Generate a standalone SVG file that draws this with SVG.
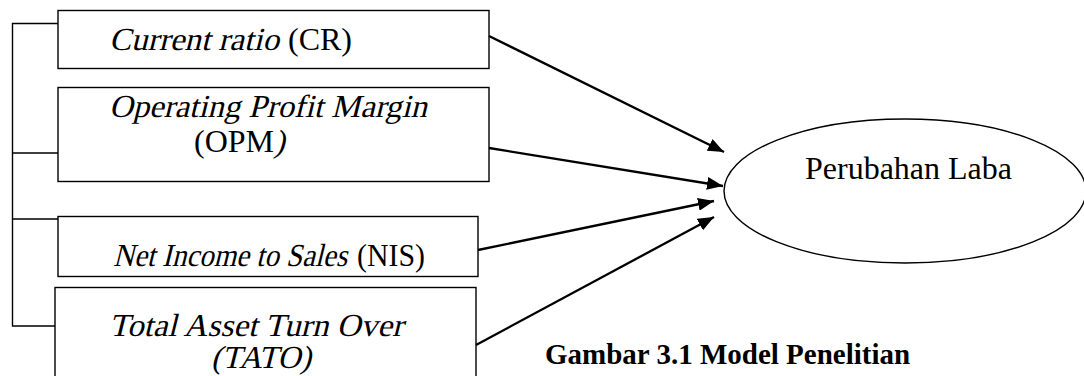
<svg xmlns="http://www.w3.org/2000/svg" width="1084" height="376" viewBox="0 0 1084 376">
  <style>
    .box { fill: #fff; stroke: #000; stroke-width: 1.4; }
    .bracket { fill: none; stroke: #000; stroke-width: 1.4; }
    .arrow { fill: none; stroke: #000; stroke-width: 2.3; marker-end: url(#head); }
    .t { font-family: "Liberation Serif", "Times New Roman", serif; font-size: 32px; fill: #000; }
    .cap { font-family: "Liberation Serif", "Times New Roman", serif; font-size: 29px; font-weight: bold; fill: #000; }
  </style>
  <defs>
    <marker id="head" markerUnits="userSpaceOnUse" markerWidth="17" markerHeight="13" refX="16" refY="6.5" orient="auto">
      <path d="M0,0 L16,6.5 L0,13 z" fill="#000"/>
    </marker>
  </defs>

  <rect width="1084" height="376" fill="#fff"/>

  <!-- bracket joining the independent variables -->
  <g id="bracket">
    <path class="bracket" d="M58,23.5 H12.5 V326 H55 M12.5,153 H58 M12.5,219 H58"/>
  </g>

  <!-- slanted runs are serif text sheared with skewX -->
  <g id="node-cr">
    <rect class="box" x="58" y="10.5" width="431" height="58"/>
    <text class="t" transform="translate(109,50) skewX(-14)" textLength="170" lengthAdjust="spacingAndGlyphs">Current ratio</text>
    <text class="t" x="288" y="50">(CR)</text>
  </g>

  <g id="node-opm">
    <rect class="box" x="58" y="87.5" width="431" height="94"/>
    <text class="t" transform="translate(109,117) skewX(-14)" textLength="318" lengthAdjust="spacingAndGlyphs">Operating Profit Margin</text>
    <text class="t" x="194" y="152">(OPM</text>
    <text class="t" transform="translate(274,152) skewX(-14)">)</text>
  </g>

  <g id="node-nis">
    <rect class="box" x="58" y="216.5" width="420" height="60"/>
    <text class="t" transform="translate(113,266) skewX(-14)" textLength="234" lengthAdjust="spacingAndGlyphs">Net Income to Sales</text>
    <text class="t" x="357" y="266" textLength="68" lengthAdjust="spacingAndGlyphs">(NIS)</text>
  </g>

  <g id="node-tato">
    <rect class="box" x="55" y="287.5" width="421" height="120"/>
    <text class="t" transform="translate(109,336) skewX(-14)" textLength="294" lengthAdjust="spacingAndGlyphs">Total Asset Turn Over</text>
    <text class="t" transform="translate(211,368) skewX(-14)">(TATO)</text>
  </g>

  <g id="node-laba">
    <ellipse class="box" cx="905" cy="191" rx="181" ry="72"/>
    <text class="t" x="805" y="179">Perubahan Laba</text>
  </g>

  <g id="connectors">
    <line class="arrow" x1="489" y1="36" x2="724" y2="152"/>
    <line class="arrow" x1="489" y1="148" x2="723" y2="186"/>
    <line class="arrow" x1="478" y1="250" x2="714" y2="201"/>
    <line class="arrow" x1="476" y1="345" x2="714" y2="217"/>
  </g>

  <text class="cap" x="545" y="364">Gambar 3.1 Model Penelitian</text>
</svg>
